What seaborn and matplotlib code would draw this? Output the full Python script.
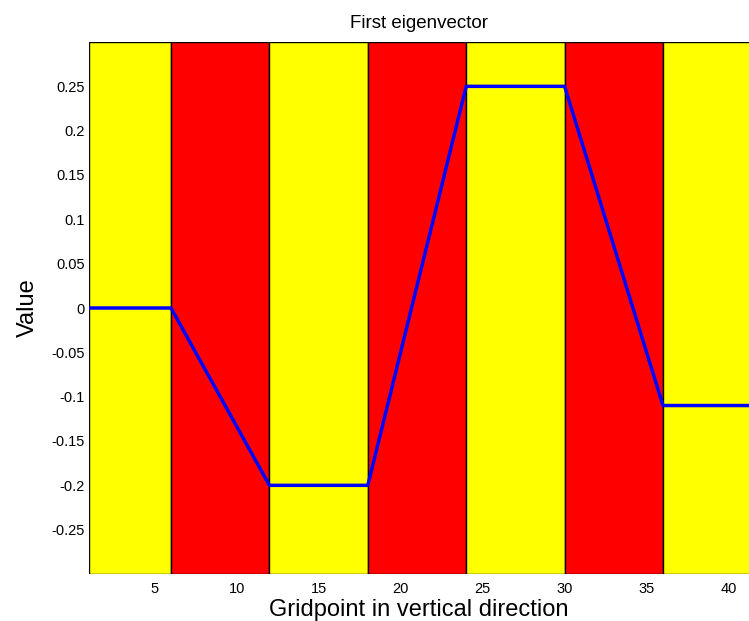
import matplotlib
matplotlib.use("Agg")
import matplotlib.pyplot as plt
import seaborn as sns
import pandas as pd

# band boundaries and colours
band_edges = [1, 6, 12, 18, 24, 30, 36, 42]
band_colors = ["#ffff00", "#ff0000", "#ffff00", "#ff0000", "#ffff00", "#ff0000", "#ffff00"]

# eigenvector breakpoints
grid_x = [1, 6, 12, 18, 24, 30, 36, 42]
values = [0.0, 0.0, -0.2, -0.2, 0.25, 0.25, -0.11, -0.11]

xticks = [5, 10, 15, 20, 25, 30, 35, 40]
yticks = [-0.25, -0.2, -0.15, -0.1, -0.05, 0, 0.05, 0.1, 0.15, 0.2, 0.25]
ytick_labels = ["-0.25", "-0.2", "-0.15", "-0.1", "-0.05", "0", "0.05", "0.1", "0.15", "0.2", "0.25"]

sns.set_style("white")
plt.rcParams["font.family"] = ["Liberation Sans", "DejaVu Sans"]
plt.rcParams["text.color"] = "black"
plt.rcParams["axes.labelcolor"] = "black"
plt.rcParams["xtick.color"] = "black"
plt.rcParams["ytick.color"] = "black"

fig = plt.figure(figsize=(7.49, 6.21), dpi=100)
W, H = 749, 621
ax = fig.add_axes([89 / W, 1 - 574 / H, (749 - 89) / W, (574 - 42) / H])

ymin, ymax = -0.3, 0.3
for i, c in enumerate(band_colors):
    ax.bar(band_edges[i], ymax - ymin, width=band_edges[i + 1] - band_edges[i],
           bottom=ymin, align="edge", color=c, edgecolor="black", linewidth=1.0, zorder=1)

df = pd.DataFrame({"x": grid_x, "v": values})
sns.lineplot(data=df, x="x", y="v", ax=ax, color="#0000ff", linewidth=2.5, zorder=3)

ax.set_xlim(1, 1 + (749 - 89) / 16.4)
ax.set_ylim(ymin, ymax)
ax.set_xticks(xticks)
ax.set_xticklabels([str(t) for t in xticks])
ax.set_yticks(yticks)
ax.set_yticklabels(ytick_labels)
ax.tick_params(axis="both", length=0, labelsize=10.5, colors="black")
ax.tick_params(axis="x", pad=6)
ax.tick_params(axis="y", pad=3)
for s in ax.spines.values():
    s.set_visible(False)

ax.set_title("First eigenvector", fontsize=13.5, pad=10, color="black")
ax.set_xlabel("Gridpoint in vertical direction", fontsize=17, labelpad=2, color="black")
ax.set_ylabel("Value", fontsize=17, labelpad=9, color="black")

fig.savefig("out.png", dpi=100)
